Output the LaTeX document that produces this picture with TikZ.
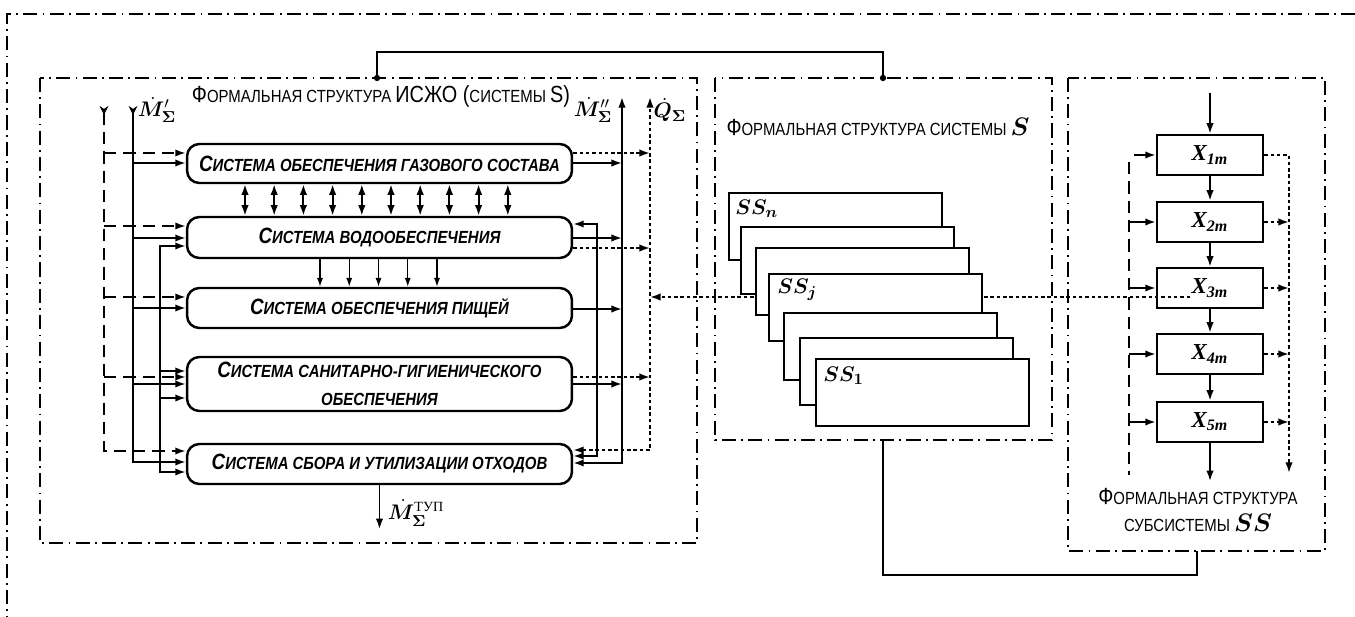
\documentclass[tikz,border=0pt]{standalone}
\usepackage{amsmath}
\usepackage{bm}
\usepackage{fontspec}
\usetikzlibrary{arrows.meta,calc}
\newfontfamily\nsans[FakeStretch=0.85]{Liberation Sans}
\newfontfamily\tserif{Liberation Serif}
\newcommand{\TB}[1]{{\fontsize{13.3}{15}\selectfont #1}}
\newcommand{\BB}[1]{{\fontsize{12.6}{14}\selectfont #1}}
\tikzset{
  panel/.style={line width=0.8pt, dash pattern=on 8pt off 3pt on 1pt off 3pt},
  conn/.style={line width=0.9pt},
  arr/.style={line width=1.05pt, -{Latex[length=6pt,width=4.2pt]}},
  arrb/.style={line width=1.05pt, {Latex[length=6pt,width=4.2pt]}-{Latex[length=6pt,width=4.2pt]}},
  thinarr/.style={line width=0.7pt, -{Latex[length=5pt,width=3.4pt]}},
  dasharr/.style={arr, dash pattern=on 7pt off 4pt},
  dotarr/.style={arr, dash pattern=on 2pt off 1.6pt},
  dotarrb/.style={arrb, dash pattern=on 2pt off 1.6pt},
  dashln/.style={line width=1.05pt, dash pattern=on 7pt off 4pt},
  sysbox/.style={draw, line width=1.4pt, rounded corners=7pt, minimum width=7.7cm, inner sep=0pt,
    font=\nsans\bfseries\itshape\fontsize{10}{16}\selectfont, align=center},
  xbox/.style={draw, line width=1.4pt, minimum width=2.12cm, minimum height=0.8cm, inner sep=0pt,
    font=\tserif\bfseries\itshape\fontsize{13}{15}\selectfont},
  ssbox/.style={draw, line width=1.2pt, fill=white, minimum width=4.26cm, minimum height=1.34cm,
    anchor=north west, inner sep=0pt},
  sslab/.style={anchor=north west, inner sep=0pt, font=\fontsize{13}{15}\selectfont},
  title/.style={inner sep=0pt, align=center, font=\nsans\fontsize{10}{15}\selectfont},
  mlab/.style={inner sep=0pt, font=\fontsize{12.5}{14}\selectfont},
}
\begin{document}
\begin{tikzpicture}[x=0.02cm,y=-0.02cm]
\useasboundingbox (0,0) rectangle (1355,617);

% outer frame and panels
\draw[panel] (1355,14) -- (7,14) -- (7,617);
\draw[panel] (40,78) rectangle (697,543);
\draw[panel] (715,78) rectangle (1052,440);
\draw[panel] (1068,78) rectangle (1325,551);

% connectors between panels
\coordinate (cA) at (377,78);
\coordinate (cB) at (883,78);
\coordinate (cC) at (883,440);
\coordinate (cD) at (1197,551);
\draw[conn] (cA) -- ++(0,-26) -| (cB);
\fill (cA) circle (1.8pt);
\fill (cB) circle (1.8pt);
\draw[conn] (cC) |- ($(cD)+(0,24)$) -- (cD);

% titles
\node[title] (t1) at (381,96) {\TB{Ф}ОРМАЛЬНАЯ СТРУКТУРА \TB{ИСЖО (}СИСТЕМЫ \TB{S)}};
\node[title] (t2) at (878,127) {\TB{Ф}ОРМАЛЬНАЯ СТРУКТУРА СИСТЕМЫ \TB{$\bm{S}$}};
\node[title] (t3) at (1198,510) {\TB{Ф}ОРМАЛЬНАЯ СТРУКТУРА\\СУБСИСТЕМЫ \TB{$\bm{SS}$}};

% left panel systems
\node[sysbox, minimum height=0.78cm] (b1) at (379.5,163.5) {\BB{С}ИСТЕМА ОБЕСПЕЧЕНИЯ ГАЗОВОГО СОСТАВА};
\node[sysbox, minimum height=0.82cm] (b2) at (379.5,237.5) {\BB{С}ИСТЕМА ВОДООБЕСПЕЧЕНИЯ};
\node[sysbox, minimum height=0.80cm] (b3) at (379.5,308) {\BB{С}ИСТЕМА ОБЕСПЕЧЕНИЯ ПИЩЕЙ};
\node[sysbox, minimum height=1.08cm] (b4) at (379.5,384) {\BB{С}ИСТЕМА САНИТАРНО-ГИГИЕНИЧЕСКОГО\\ОБЕСПЕЧЕНИЯ};
\node[sysbox, minimum height=0.80cm] (b5) at (379.5,464) {\BB{С}ИСТЕМА СБОРА И УТИЛИЗАЦИИ ОТХОДОВ};

% arrows between box 1 and box 2
\foreach \i [evaluate=\i as \xx using 245+29.2*\i] in {0,...,9}
  \draw[arrb] (b1.south -| \xx,0) -- (b2.north -| \xx,0);
% arrows between box 2 and box 3
\foreach \i [evaluate=\i as \xx using 320+29.25*\i] in {0,...,4}
  \draw[thinarr] (b2.south -| \xx,0) -- (b3.north -| \xx,0);

% left input buses
\coordinate (dtop) at (104,106);
\coordinate (mtop) at (133,106);
\draw[dasharr, {Stealth[reversed,length=5pt,width=5pt]}-{Latex[length=6pt,width=4.2pt]}] (dtop) |- (b5.west|-0,451);
\foreach \y/\b in {153/b1,226/b2,297/b3,377/b4}
  \draw[dasharr] (104,\y) -- (\b.west|-0,\y);
\draw[arr, {Stealth[reversed,length=5pt,width=5pt]}-{Latex[length=6pt,width=4.2pt]}] (mtop) |- (b5.west|-0,462);
\foreach \y/\b in {163/b1,238/b2,308/b3,384/b4}
  \draw[arr] (133,\y) -- (\b.west|-0,\y);
\draw[arrb] (b2.west|-0,246) -| (160,472) -- (b5.west|-0,472);
\foreach \y in {371,398}
  \draw[arr] (160,\y) -- (b4.west|-0,\y);

% right output buses
\draw[arrb] (b5.east|-0,463) -| (622,97);
\foreach \y/\b in {163/b1,238/b2,309/b3,384/b4}
  \draw[arr] (\b.east|-0,\y) -- (622,\y);
\draw[dotarrb] (b5.east|-0,450) -| (650,97);
\foreach \y/\b in {153/b1,248/b2,377/b4}
  \draw[dotarr] (\b.east|-0,\y) -- (650,\y);
\draw[arrb] (b2.east|-0,224) -| (597,456) -- (b5.east|-0,456);

% output of box 5
\draw[arr] (b5.south) -- ++(0,44);

% flow labels
\node[mlab] (lm1) at (157,110) {$\dot{\bm{M}}_{\bm{\Sigma}}^{\prime}$};
\node[mlab] (lm2) at (593,110) {$\dot{\bm{M}}_{\bm{\Sigma}}^{\prime\prime}$};
\node[mlab] (lq) at (670,110) {$\dot{\bm{Q}}_{\bm{\Sigma}}$};
\node[mlab] (lm3) at (416,513) {$\dot{\bm{M}}_{\bm{\Sigma}}^{\mbox{\tserif\fontsize{8}{9}\selectfont ТУП}}$};

% right panel subsystem chain
\node[xbox] (x1) at (1210,155) {X\textsubscript{1m}};
\node[xbox] (x2) at (1210,222) {X\textsubscript{2m}};
\node[xbox] (x3) at (1210,288) {X\textsubscript{3m}};
\node[xbox] (x4) at (1210,354) {X\textsubscript{4m}};
\node[xbox] (x5) at (1210,422) {X\textsubscript{5m}};

% dotted link from SS_j to left panel and X3m (behind stack)
\coordinate (dj) at (1190,297);
\draw[dotarr] (dj) -- (650,297);

% middle panel stack
\node[ssbox] (s1) at (728,192) {};
\node[ssbox] (s2) at (740,226) {};
\node[ssbox] (s3) at (755,247) {};
\node[ssbox] (s4) at (768,273) {};
\node[ssbox] (s5) at (783,312) {};
\node[ssbox] (s6) at (799,337) {};
\node[ssbox] (s7) at (815,358) {};
\node[sslab] (ls1) at ($(s1.north west)+(7,8)$) {$\bm{SS_n}$};
\node[sslab] (ls4) at ($(s4.north west)+(9,6)$) {$\bm{SS_j}$};
\node[sslab] (ls7) at ($(s7.north west)+(8,9)$) {$\bm{SS_1}$};

\coordinate (xin) at (1210,93);
\draw[arr] (xin) -- (x1.north);
\draw[arr] (x1.south) -- (x2.north);
\draw[arr] (x2.south) -- (x3.north);
\draw[arr] (x3.south) -- (x4.north);
\draw[arr] (x4.south) -- (x5.north);
\draw[arr] (x5.south) -- ++(0,38);

\draw[dashln] (1129,162) -- (1129,475);
\draw[arr] (1134,155) -- (x1.west);
\foreach \b in {x2,x3,x4,x5}
  \draw[arr] (\b.west -| 1129,0) -- (\b.west);
\draw[dotarr] (x1.east) -| (1289,473);
\foreach \b in {x2,x3,x4,x5}
  \draw[dotarr] (\b.east) -- (\b.east -| 1289,0);
\end{tikzpicture}
\end{document}
